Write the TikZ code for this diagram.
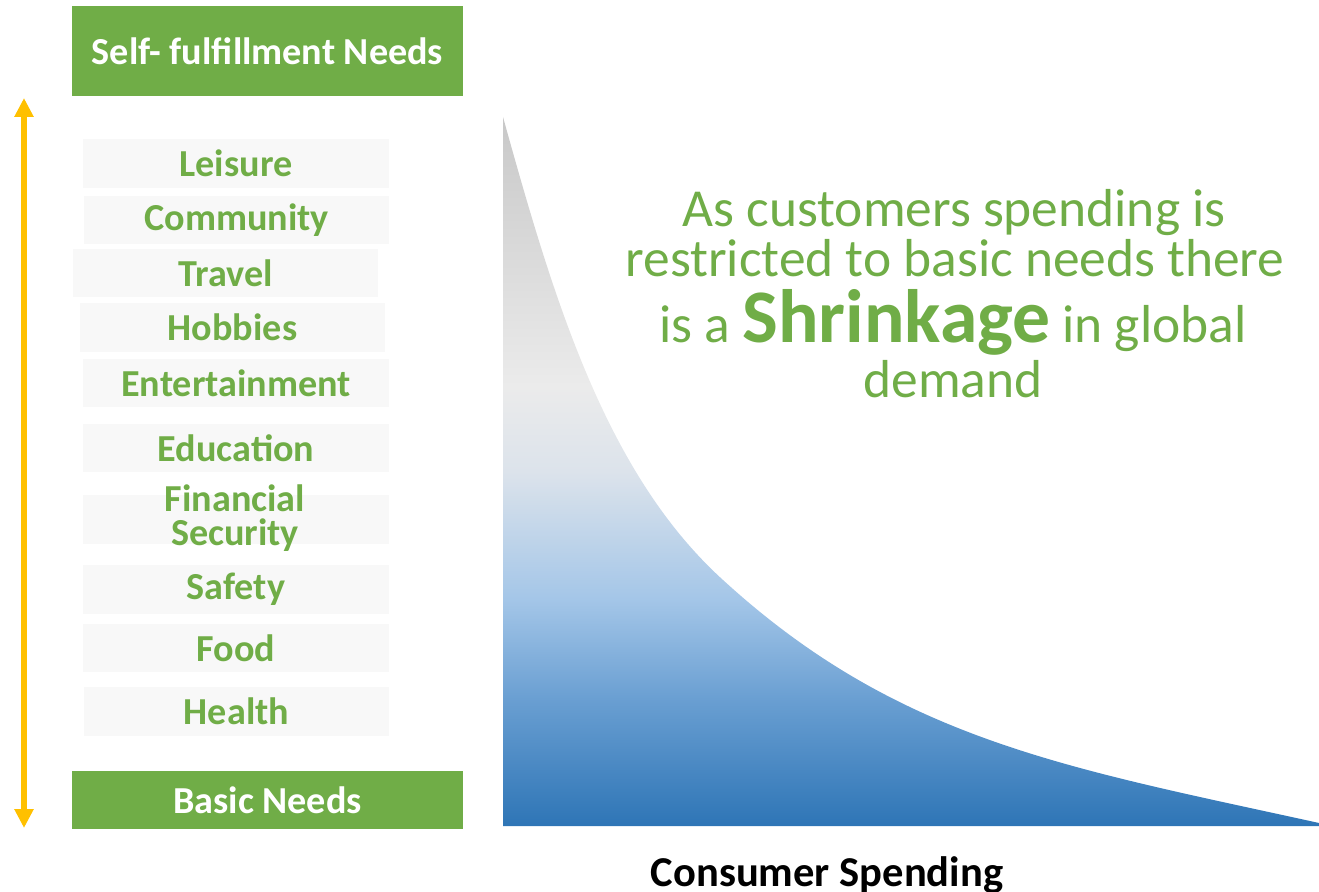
\documentclass[tikz,border=0pt]{standalone}
\usepackage{fontspec}
\setmainfont{Carlito}
\usepackage{xcolor}
\usetikzlibrary{arrows.meta}

\definecolor{needgreen}{HTML}{70AD47}
\definecolor{itemgray}{HTML}{F8F8F8}
\definecolor{arrowyellow}{HTML}{FFC000}
\definecolor{spendtop}{HTML}{C8C8C8}
\definecolor{spendmid}{HTML}{EBEBEB}
\definecolor{spendlight}{HTML}{DCE3EB}
\definecolor{spendsky}{HTML}{A4C6E8}
\definecolor{spendblue}{HTML}{6A9FD2}
\definecolor{spenddeep}{HTML}{2E75B6}

% vertical fill of the spending curve, path spans 25bp..75bp
\pgfdeclareverticalshading{spending}{100bp}{%
  color(0bp)=(spenddeep); color(25bp)=(spenddeep);
  color(34bp)=(spendblue); color(41bp)=(spendsky);
  color(50bp)=(spendlight); color(56bp)=(spendmid);
  color(75bp)=(spendtop); color(100bp)=(spendtop)}

\tikzset{
  needbox/.style={fill=needgreen, text=white, inner sep=0pt,
    minimum width=3.91cm, font=\fontsize{10.85}{12}\selectfont\bfseries},
  itembox/.style={fill=itemgray, text=needgreen, inner sep=0pt,
    minimum width=3.05cm, minimum height=0.48cm,
    font=\fontsize{10.85}{12}\selectfont\bfseries},
  itemtext/.style={text=needgreen, inner sep=0pt, align=center,
    font=\fontsize{10.85}{9.5}\selectfont\bfseries},
  msg/.style={text=needgreen, inner sep=0pt, anchor=base,
    font=\fontsize{15.2}{17}\selectfont},
}

\begin{document}
\begin{tikzpicture}[x=0.01cm, y=-0.01cm]
    \useasboundingbox (0,0) rectangle (1319,892);

    % the two ends of the scale
    \node [needbox, minimum height=0.90cm] (top) at (267.5,51) {Self- fulfillment Needs};
    \node [needbox, minimum height=0.58cm] (basic) at (267.5,800) {Basic Needs};

    % needs in between
    \node [itembox] (leisure) at (236,163.5) {Leisure};
    \node [itembox] (community) at (236.5,220) {Community};
    \node [itembox] (travel) at (225.5,273) {Travel};
    \node [itembox] (hobbies) at (232.5,327.5) {Hobbies};
    \node [itembox] (entertainment) at (236,383) {Entertainment};
    \node [itembox] (education) at (236,448) {Education};
    \node [itembox] (financial) at (236,519.5) {};
    \node [itemtext] (financialtext) at (235,518) {Financial\\Security};
    \node [itembox] (safety) at (236,589.5) {Safety};
    \node [itembox] (food) at (236,648) {Food};
    \node [itembox] (health) at (236.5,711.5) {Health};

    % double arrow along the scale
    \coordinate (up) at (24,98);
    \coordinate (down) at (24,828);
    \draw [arrowyellow, line width=1.6pt,
      {Triangle[width=5.2pt,length=5.4pt]}-{Triangle[width=5.2pt,length=5.4pt]}] (up) -- (down);

    % spending curve
    \shade [shading=spending] (503,826) -- (503,117)
      .. controls (553,297) and (605,473) .. (723,580)
      .. controls (899,741) and (1069,768) .. (1319,823)
      -- (1319,826) -- cycle;

    % message
    \node [msg] (line1) at (954,227) {As customers spending is};
    \node [msg] (line2) at (955,277) {restricted to basic needs there};
    \node [msg] (line3) at (953,343) {is a {\fontsize{21.5}{24}\selectfont\bfseries Shrinkage} in global};
    \node [msg] (line4) at (953,398) {demand};

    \node [anchor=base, inner sep=0pt, font=\fontsize{12.1}{14}\selectfont\bfseries] (axis) at (827,886) {Consumer Spending};
\end{tikzpicture}
\end{document}
